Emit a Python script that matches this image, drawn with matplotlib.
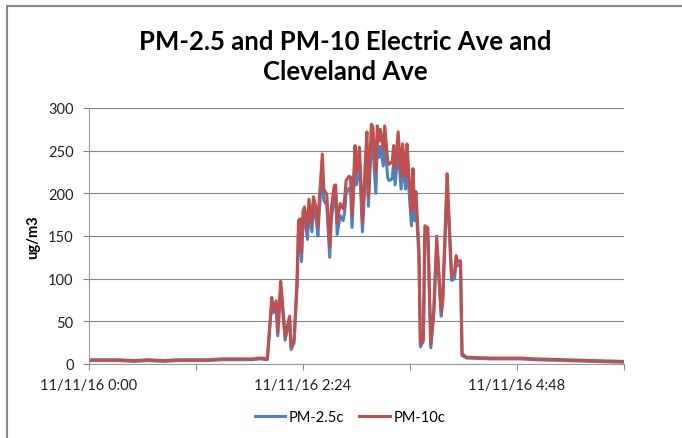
import matplotlib
matplotlib.use("Agg")
import matplotlib.pyplot as plt
import matplotlib.patches as mpatches

# minutes after 11/11/16 0:00
minutes = [0, 10, 20, 30, 40, 50, 60, 70, 80, 90, 100, 110, 115, 120,
           123, 124, 126, 127, 129, 130, 132, 133, 135, 136,
           138, 140, 141, 142, 143, 144, 145, 147, 148, 150,
           151, 153, 154, 155, 157, 158, 160, 162, 163, 165,
           166, 167, 169, 171, 172, 173, 175, 176, 177, 179,
           180, 182, 184, 186, 187, 188, 190, 191, 193, 194,
           195, 196, 198, 199, 201, 202, 204, 205, 206, 208,
           210, 211, 213, 214, 215, 217, 218, 219, 220, 222,
           223, 225, 226, 228, 230, 232, 234, 237, 238, 241,
           242, 244, 246, 247, 248, 250, 251, 254,
           270, 290, 300, 320, 340, 360]

pm25 = [4, 4, 4, 3, 4, 3, 4, 4, 4, 5, 5, 5, 6, 5,
        72, 60, 68, 33, 90, 70, 28, 37, 50, 17,
        25, 90, 155, 160, 120, 166, 172, 146, 180, 155,
        182, 168, 150, 180, 232, 192, 186, 125, 168, 195,
        196, 152, 174, 168, 178, 200, 206, 205, 160, 238,
        210, 236, 155, 222, 252, 185, 260, 258, 200, 258,
        242, 255, 232, 262, 218, 215, 217, 236, 210, 252,
        205, 238, 205, 238, 212, 162, 212, 168, 188, 126,
        20, 27, 152, 150, 19, 58, 140, 56, 72, 210,
        172, 98, 100, 120, 115, 117, 10, 7,
        6, 6, 5, 4, 3, 2]

pm10 = [5, 5, 5, 4, 5, 4, 5, 5, 5, 6, 6, 6, 7, 6,
        78, 64, 74, 37, 97, 76, 32, 41, 56, 20,
        29, 100, 168, 170, 131, 179, 184, 158, 193, 166,
        196, 182, 162, 193, 246, 205, 199, 137, 182, 209,
        210, 166, 188, 182, 193, 215, 220, 219, 174, 256,
        225, 254, 166, 240, 272, 196, 281, 278, 226, 279,
        261, 275, 252, 279, 238, 234, 237, 256, 229, 272,
        220, 258, 220, 258, 229, 179, 229, 182, 202, 135,
        24, 30, 162, 160, 23, 64, 150, 61, 76, 223,
        182, 103, 108, 127, 120, 121, 12, 8,
        7, 7, 6, 5, 4, 3]

label_ticks = [0, 144, 288]
tick_labels = ["11/11/16 0:00", "11/11/16 2:24", "11/11/16 4:48"]
all_ticks = [0, 72, 144, 216, 288, 360]

plt.rcParams['font.family'] = ['Lato', 'DejaVu Sans']

fig = plt.figure(figsize=(6.82, 4.39), dpi=100)
ax = fig.add_axes([89 / 682, 1 - 365 / 439, 535 / 682, 256 / 439])

# chart border
fig.patches.append(mpatches.Rectangle((7 / 682, -0.05), 1.1, 1 - 7 / 439 + 0.05,
                                      transform=fig.transFigure, fill=False,
                                      edgecolor='#888888', linewidth=1.5))

ax.plot(minutes, pm25, color='#4F81BD', lw=2.2, label='PM-2.5c')
ax.plot(minutes, pm10, color='#C0504D', lw=2.2, label='PM-10c')

ax.set_xlim(0, 360)
ax.set_ylim(0, 300)
ax.set_yticks(range(0, 301, 50))
ax.set_xticks(all_ticks)
ax.set_xticklabels([tick_labels[label_ticks.index(t)] if t in label_ticks else "" for t in all_ticks])
ax.grid(axis='y', color='#868686', lw=0.8)
ax.set_axisbelow(True)
for s in ['top', 'right']:
    ax.spines[s].set_visible(False)
for s in ['left', 'bottom']:
    ax.spines[s].set_color('#9a9a9a')
    ax.spines[s].set_linewidth(0.8)
ax.tick_params(axis='both', colors='#868686', labelcolor='#222222', labelsize=10.5,
               length=4, width=0.8)
ax.tick_params(axis='x', pad=6)
ax.tick_params(axis='y', pad=7)

ax.set_ylabel('ug/m3', fontsize=10.5, fontweight='bold')
ax.yaxis.set_label_coords(-0.092, 0.5)

fig.text(0.506, 1 - 57 / 439, 'PM-2.5 and PM-10 Electric Ave and\nCleveland Ave',
         ha='center', va='center', fontsize=18.5, fontweight='bold',
         linespacing=1.3, color='#000000')

fig.legend(loc='center', bbox_to_anchor=(0.513, 1 - 418 / 439), ncol=2,
           frameon=False, fontsize=10.5, handlelength=2.1, columnspacing=1.0,
           handletextpad=0.25)

fig.savefig('out.png', dpi=100)
